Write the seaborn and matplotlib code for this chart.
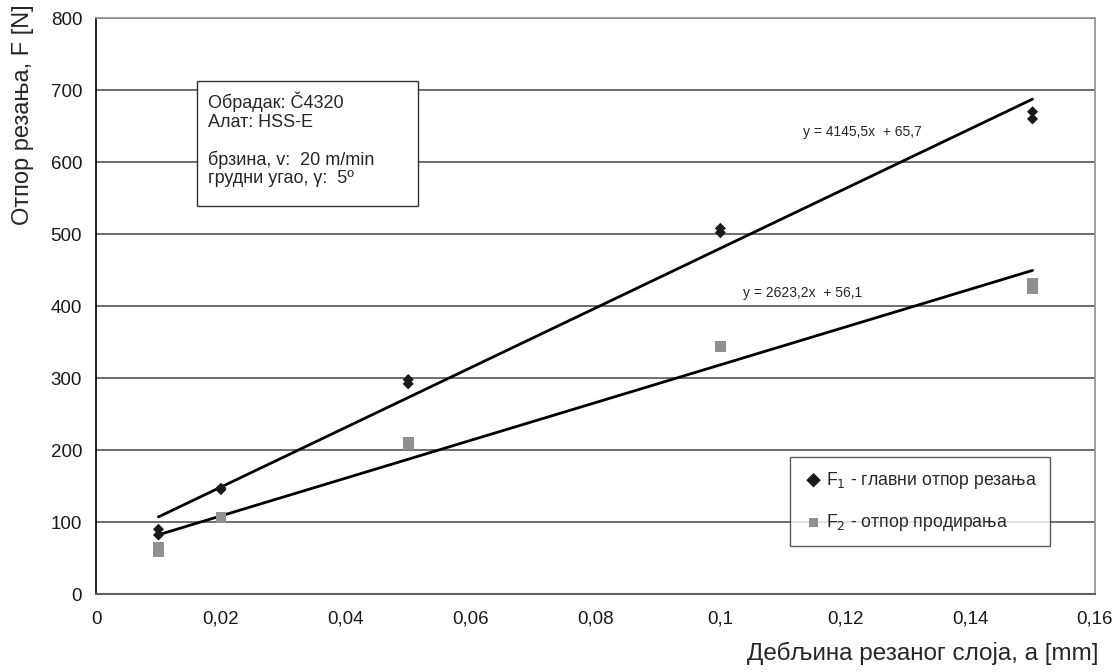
import numpy as np
import pandas as pd
import matplotlib
matplotlib.use("Agg")
import matplotlib.pyplot as plt
from matplotlib.patches import Rectangle
import seaborn as sns

# Data
x_f1 = [0.01, 0.01, 0.02, 0.02, 0.05, 0.05, 0.10, 0.10, 0.15, 0.15]
y_f1 = [82, 90, 145, 147, 292, 298, 502, 508, 660, 670]
x_f2 = [0.01, 0.01, 0.02, 0.05, 0.05, 0.10, 0.15, 0.15]
y_f2 = [59, 65, 106, 207, 210, 344, 424, 431]

# Trend line coefficients (as printed on the chart)
trend_f1 = (4145.5, 65.7)
trend_f2 = (2623.2, 56.1)
trend_range = [0.01, 0.15]

x_ticks = [0, 0.02, 0.04, 0.06, 0.08, 0.1, 0.12, 0.14, 0.16]
x_tick_labels = ["0", "0,02", "0,04", "0,06", "0,08", "0,1", "0,12", "0,14", "0,16"]
y_ticks = [0, 100, 200, 300, 400, 500, 600, 700, 800]

sns.set_style("white")
plt.rcParams['font.family'] = ['Liberation Sans', 'DejaVu Sans']

fig = plt.figure(figsize=(11.13, 6.72), dpi=100)
ax = fig.add_axes([0.0863, 0.116, 0.8975, 0.857])

df1 = pd.DataFrame({"x": x_f1, "y": y_f1})
df2 = pd.DataFrame({"x": x_f2, "y": y_f2})

sns.scatterplot(data=df1, x="x", y="y", ax=ax, marker="D", s=32, color="#1a1a1a",
                edgecolor="none", zorder=4, label="F$_1$ - главни отпор резања")
sns.scatterplot(data=df2, x="x", y="y", ax=ax, marker="s", s=60, color="#909090",
                edgecolor="none", zorder=4, label="F$_2$ - отпор продирања")

for (k, n) in (trend_f1, trend_f2):
    xs = np.array(trend_range)
    sns.lineplot(x=xs, y=k * xs + n, ax=ax, color="black", lw=2.0, zorder=3)

ax.set_xlim(0, 0.16)
ax.set_ylim(0, 800)
ax.set_xticks(x_ticks)
ax.set_xticklabels(x_tick_labels)
ax.set_yticks(y_ticks)
ax.tick_params(axis="both", labelsize=13.5, direction="out", length=6, width=1,
               color="black", labelcolor="#1a1a1a")
ax.tick_params(axis="x", pad=6)
ax.tick_params(axis="y", pad=4)
ax.yaxis.grid(True, color="#555555", lw=1.2)
ax.set_axisbelow(True)
for s in ("top", "right"):
    ax.spines[s].set_color("#909090")
    ax.spines[s].set_linewidth(1.2)
ax.spines["bottom"].set_color("#606060")
ax.spines["bottom"].set_linewidth(1.5)
ax.spines["left"].set_color("black")
ax.spines["left"].set_linewidth(1.2)

ax.set_xlabel("Дебљина резаног слоја, a [mm]", fontsize=17.5, ha="right", va="top")
ax.xaxis.set_label_coords(1.004, -0.083)
ax.set_ylabel("Отпор резања, F [N]", fontsize=17)
ax.yaxis.set_label_coords(-0.062, 0.832)

ax.text(0.1227, 642, f"y = {trend_f1[0]:.1f}x  + {trend_f1[1]:.1f}".replace(".", ","),
        fontsize=10, ha="center", va="center")
ax.text(0.1131, 418, f"y = {trend_f2[0]:.1f}x  + {trend_f2[1]:.1f}".replace(".", ","),
        fontsize=10, ha="center", va="center")

ax.add_patch(Rectangle((0.101, 0.674), 0.221, 0.217, transform=ax.transAxes,
                       fc="white", ec="#333333", lw=1, zorder=5))
info = "Обрадак: Č4320\nАлат: HSS-E\n\nбрзина, v:  20 m/min\nгрудни угао, γ:  5º"
ax.text(0.112, 0.872, info, transform=ax.transAxes, fontsize=13, ha="left", va="top",
        linespacing=1.1, zorder=6)

leg = ax.legend(loc="lower right", bbox_to_anchor=(0.955, 0.083), fontsize=12.7,
                frameon=True, fancybox=False, edgecolor="#333333", handletextpad=0.1,
                labelspacing=1.2, borderpad=0.75, handlelength=1.2, borderaxespad=0)
leg.get_frame().set_linewidth(1)
handles = leg.legend_handles
handles[0].set_sizes([55])
handles[1].set_sizes([45])

fig.savefig("out.png", dpi=100)
